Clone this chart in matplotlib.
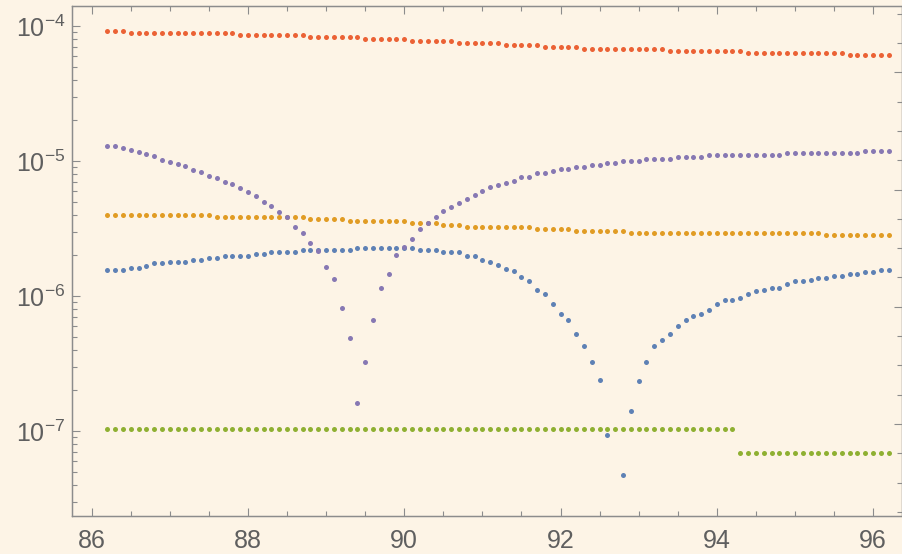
import numpy as np
import matplotlib
matplotlib.use("Agg")
import matplotlib.pyplot as plt
from matplotlib import font_manager as fm
from matplotlib.ticker import FixedLocator, LogLocator, NullFormatter, MultipleLocator

# sample positions (uniform grid)
x = np.round(np.linspace(86.2, 96.2, 101), 2)

blue = [
    1.57e-6, 1.57e-6, 1.57e-6, 1.62e-6, 1.62e-6, 1.68e-6, 1.74e-6, 1.74e-6, 1.80e-6, 1.80e-6,
    1.80e-6, 1.86e-6, 1.86e-6, 1.92e-6, 1.92e-6, 1.99e-6, 1.99e-6, 1.99e-6, 1.99e-6, 2.06e-6,
    2.06e-6, 2.13e-6, 2.13e-6, 2.13e-6, 2.13e-6, 2.20e-6, 2.20e-6, 2.20e-6, 2.20e-6, 2.20e-6,
    2.20e-6, 2.20e-6, 2.28e-6, 2.28e-6, 2.28e-6, 2.28e-6, 2.28e-6, 2.28e-6, 2.28e-6, 2.28e-6,
    2.20e-6, 2.20e-6, 2.20e-6, 2.13e-6, 2.13e-6, 2.13e-6, 1.99e-6, 1.99e-6, 1.86e-6, 1.80e-6,
    1.69e-6, 1.58e-6, 1.52e-6, 1.38e-6, 1.28e-6, 1.11e-6, 1.04e-6, 8.77e-7, 7.36e-7, 6.64e-7,
    5.20e-7, 4.24e-7, 3.23e-7, 2.37e-7, 9.34e-8, 1.50e-8, 4.70e-8, 1.41e-7, 2.36e-7, 3.23e-7,
    4.24e-7, 4.70e-7, 5.20e-7, 6.00e-7, 6.64e-7, 7.11e-7, 7.36e-7, 7.88e-7, 8.73e-7, 9.34e-7,
    9.34e-7, 9.71e-7, 1.04e-6, 1.08e-6, 1.11e-6, 1.15e-6, 1.15e-6, 1.23e-6, 1.28e-6, 1.28e-6,
    1.32e-6, 1.37e-6, 1.37e-6, 1.41e-6, 1.41e-6, 1.46e-6, 1.46e-6, 1.51e-6, 1.51e-6, 1.57e-6,
    1.57e-6,
]

orange = [
    3.98e-6, 3.98e-6, 3.98e-6, 3.98e-6, 3.98e-6, 3.98e-6, 3.98e-6, 3.98e-6, 3.98e-6, 3.98e-6,
    3.98e-6, 3.98e-6, 3.98e-6, 3.98e-6, 3.85e-6, 3.85e-6, 3.85e-6, 3.85e-6, 3.85e-6, 3.85e-6,
    3.85e-6, 3.85e-6, 3.85e-6, 3.85e-6, 3.85e-6, 3.85e-6, 3.72e-6, 3.72e-6, 3.72e-6, 3.72e-6,
    3.72e-6, 3.59e-6, 3.59e-6, 3.59e-6, 3.59e-6, 3.59e-6, 3.59e-6, 3.59e-6, 3.59e-6, 3.47e-6,
    3.47e-6, 3.47e-6, 3.47e-6, 3.36e-6, 3.36e-6, 3.36e-6, 3.24e-6, 3.24e-6, 3.24e-6, 3.24e-6,
    3.24e-6, 3.24e-6, 3.24e-6, 3.24e-6, 3.24e-6, 3.12e-6, 3.12e-6, 3.12e-6, 3.12e-6, 3.12e-6,
    3.01e-6, 3.01e-6, 3.01e-6, 3.01e-6, 3.01e-6, 3.01e-6, 3.01e-6, 2.91e-6, 2.91e-6, 2.91e-6,
    2.91e-6, 2.91e-6, 2.91e-6, 2.91e-6, 2.91e-6, 2.91e-6, 2.91e-6, 2.91e-6, 2.91e-6, 2.91e-6,
    2.91e-6, 2.91e-6, 2.91e-6, 2.91e-6, 2.91e-6, 2.91e-6, 2.91e-6, 2.91e-6, 2.91e-6, 2.91e-6,
    2.91e-6, 2.91e-6, 2.82e-6, 2.82e-6, 2.82e-6, 2.82e-6, 2.82e-6, 2.82e-6, 2.82e-6, 2.82e-6,
    2.82e-6,
]

green = [
    1.035e-7, 1.035e-7, 1.035e-7, 1.035e-7, 1.035e-7, 1.035e-7, 1.035e-7, 1.035e-7, 1.035e-7, 1.035e-7,
    1.035e-7, 1.035e-7, 1.035e-7, 1.035e-7, 1.035e-7, 1.035e-7, 1.035e-7, 1.035e-7, 1.035e-7, 1.035e-7,
    1.035e-7, 1.035e-7, 1.035e-7, 1.035e-7, 1.035e-7, 1.035e-7, 1.035e-7, 1.035e-7, 1.035e-7, 1.035e-7,
    1.035e-7, 1.035e-7, 1.035e-7, 1.035e-7, 1.035e-7, 1.035e-7, 1.035e-7, 1.035e-7, 1.035e-7, 1.035e-7,
    1.035e-7, 1.035e-7, 1.035e-7, 1.035e-7, 1.035e-7, 1.035e-7, 1.035e-7, 1.035e-7, 1.035e-7, 1.035e-7,
    1.035e-7, 1.035e-7, 1.035e-7, 1.035e-7, 1.035e-7, 1.035e-7, 1.035e-7, 1.035e-7, 1.035e-7, 1.035e-7,
    1.035e-7, 1.035e-7, 1.035e-7, 1.035e-7, 1.035e-7, 1.035e-7, 1.035e-7, 1.035e-7, 1.035e-7, 1.035e-7,
    1.035e-7, 1.035e-7, 1.035e-7, 1.035e-7, 1.035e-7, 1.035e-7, 1.035e-7, 1.035e-7, 1.035e-7, 1.035e-7,
    1.035e-7, 6.84e-8, 6.84e-8, 6.84e-8, 6.84e-8, 6.84e-8, 6.84e-8, 6.84e-8, 6.84e-8, 6.84e-8,
    6.84e-8, 6.84e-8, 6.84e-8, 6.84e-8, 6.84e-8, 6.84e-8, 6.84e-8, 6.84e-8, 6.84e-8, 6.84e-8,
    6.84e-8,
]

red = [
    9.14e-5, 9.14e-5, 9.14e-5, 8.83e-5, 8.83e-5, 8.83e-5, 8.83e-5, 8.83e-5, 8.83e-5, 8.83e-5,
    8.83e-5, 8.83e-5, 8.83e-5, 8.83e-5, 8.83e-5, 8.83e-5, 8.83e-5, 8.53e-5, 8.53e-5, 8.53e-5,
    8.53e-5, 8.53e-5, 8.53e-5, 8.53e-5, 8.53e-5, 8.53e-5, 8.25e-5, 8.25e-5, 8.25e-5, 8.25e-5,
    8.25e-5, 8.25e-5, 8.25e-5, 7.97e-5, 7.97e-5, 7.97e-5, 7.97e-5, 7.97e-5, 7.97e-5, 7.70e-5,
    7.70e-5, 7.70e-5, 7.70e-5, 7.70e-5, 7.70e-5, 7.44e-5, 7.44e-5, 7.44e-5, 7.44e-5, 7.44e-5,
    7.44e-5, 7.19e-5, 7.19e-5, 7.19e-5, 7.19e-5, 7.19e-5, 6.95e-5, 6.95e-5, 6.95e-5, 6.95e-5,
    6.95e-5, 6.72e-5, 6.72e-5, 6.72e-5, 6.72e-5, 6.72e-5, 6.72e-5, 6.72e-5, 6.72e-5, 6.72e-5,
    6.72e-5, 6.72e-5, 6.49e-5, 6.49e-5, 6.49e-5, 6.49e-5, 6.49e-5, 6.49e-5, 6.49e-5, 6.49e-5,
    6.49e-5, 6.49e-5, 6.28e-5, 6.28e-5, 6.28e-5, 6.28e-5, 6.28e-5, 6.28e-5, 6.28e-5, 6.28e-5,
    6.28e-5, 6.28e-5, 6.28e-5, 6.28e-5, 6.28e-5, 6.07e-5, 6.07e-5, 6.07e-5, 6.07e-5, 6.07e-5,
    6.07e-5,
]

purple = [
    1.29e-5, 1.29e-5, 1.24e-5, 1.20e-5, 1.16e-5, 1.12e-5, 1.08e-5, 1.01e-5, 9.78e-6, 9.45e-6,
    9.14e-6, 8.53e-6, 8.25e-6, 7.70e-6, 7.44e-6, 6.95e-6, 6.72e-6, 6.28e-6, 5.86e-6, 5.48e-6,
    4.94e-6, 4.62e-6, 4.17e-6, 3.85e-6, 3.24e-6, 2.93e-6, 2.47e-6, 2.15e-6, 1.64e-6, 1.33e-6,
    8.19e-7, 4.89e-7, 1.62e-7, 3.23e-7, 6.64e-7, 1.15e-6, 1.46e-6, 2.00e-6, 2.29e-6, 2.63e-6,
    3.12e-6, 3.46e-6, 3.85e-6, 4.26e-6, 4.56e-6, 4.89e-6, 5.23e-6, 5.60e-6, 6.00e-6, 6.42e-6,
    6.64e-6, 6.87e-6, 7.15e-6, 7.65e-6, 7.65e-6, 8.19e-6, 8.19e-6, 8.47e-6, 8.77e-6, 8.77e-6,
    9.07e-6, 9.07e-6, 9.39e-6, 9.39e-6, 9.71e-6, 9.71e-6, 1.005e-5, 1.005e-5, 1.005e-5, 1.04e-5,
    1.04e-5, 1.04e-5, 1.04e-5, 1.076e-5, 1.076e-5, 1.076e-5, 1.076e-5, 1.11e-5, 1.11e-5, 1.11e-5,
    1.11e-5, 1.11e-5, 1.11e-5, 1.11e-5, 1.11e-5, 1.11e-5, 1.11e-5, 1.15e-5, 1.15e-5, 1.15e-5,
    1.15e-5, 1.15e-5, 1.15e-5, 1.15e-5, 1.15e-5, 1.15e-5, 1.15e-5, 1.19e-5, 1.19e-5, 1.19e-5,
    1.19e-5,
]

series = [
    (blue, "#5e81b5"),
    (orange, "#e19c24"),
    (green, "#8fb032"),
    (red, "#eb6235"),
    (purple, "#8778b3"),
]

x_limits = (85.748, 96.37)
y_limits = (2.345e-8, 1.406e-4)

available = {f.name for f in fm.fontManager.ttflist}
label_font = "Liberation Sans Narrow" if "Liberation Sans Narrow" in available else "Liberation Sans"
plt.rcParams["font.family"] = [label_font, "DejaVu Sans"]
plt.rcParams["mathtext.fontset"] = "custom"
plt.rcParams["mathtext.rm"] = label_font

bg = "#fdf4e6"
frame_col = "#8c8c8c"
text_col = "#5f5f5f"

fig = plt.figure(figsize=(9.03, 5.54), dpi=100, facecolor=bg)
ax = fig.add_axes([72 / 903, 1 - 516 / 554, (902 - 72) / 903, (516 - 6) / 554])
ax.set_facecolor(bg)

for vals, col in series:
    ax.plot(x, vals, linestyle="none", marker="o", markersize=3.6,
            markeredgewidth=0, color=col, clip_on=True)

ax.set_yscale("log")
ax.set_xlim(*x_limits)
ax.set_ylim(*y_limits)

ax.xaxis.set_major_locator(MultipleLocator(2))
ax.xaxis.set_minor_locator(MultipleLocator(0.5))
ax.yaxis.set_major_locator(LogLocator(base=10, numticks=20))
ax.yaxis.set_minor_locator(LogLocator(base=10, subs=np.arange(2, 10), numticks=200))
ax.yaxis.set_minor_formatter(NullFormatter())

for sp in ax.spines.values():
    sp.set_color(frame_col)
    sp.set_linewidth(0.9)

ax.tick_params(axis="both", which="both", direction="in", color=frame_col, width=0.8,
               labelcolor=text_col, labelsize=18)
ax.tick_params(axis="both", which="major", length=6)
ax.tick_params(axis="both", which="minor", length=3.6)
ax.tick_params(axis="x", which="both", top=True, bottom=True, pad=9)
ax.tick_params(axis="y", which="both", left=True, right=False, pad=5)

# right frame edge carries ticks on the natural-log scale
ax2 = ax.twinx()
ax2.set_yscale("log")
ax2.set_ylim(*y_limits)
ax2.yaxis.set_major_locator(FixedLocator(np.exp([-10.0, -12.0, -14.0, -16.0])))
ax2.yaxis.set_minor_locator(FixedLocator(np.exp(np.arange(-17.5, -8.9, 0.5))))
ax2.yaxis.set_major_formatter(NullFormatter())
ax2.yaxis.set_minor_formatter(NullFormatter())
ax2.tick_params(axis="y", which="both", direction="in", color=frame_col, width=0.8,
                left=False, right=True, labelright=False)
ax2.tick_params(axis="y", which="major", length=6)
ax2.tick_params(axis="y", which="minor", length=3.6)
for sp in ax2.spines.values():
    sp.set_color(frame_col)
    sp.set_linewidth(0.9)

fig.savefig("out.png", dpi=100, facecolor=bg)
